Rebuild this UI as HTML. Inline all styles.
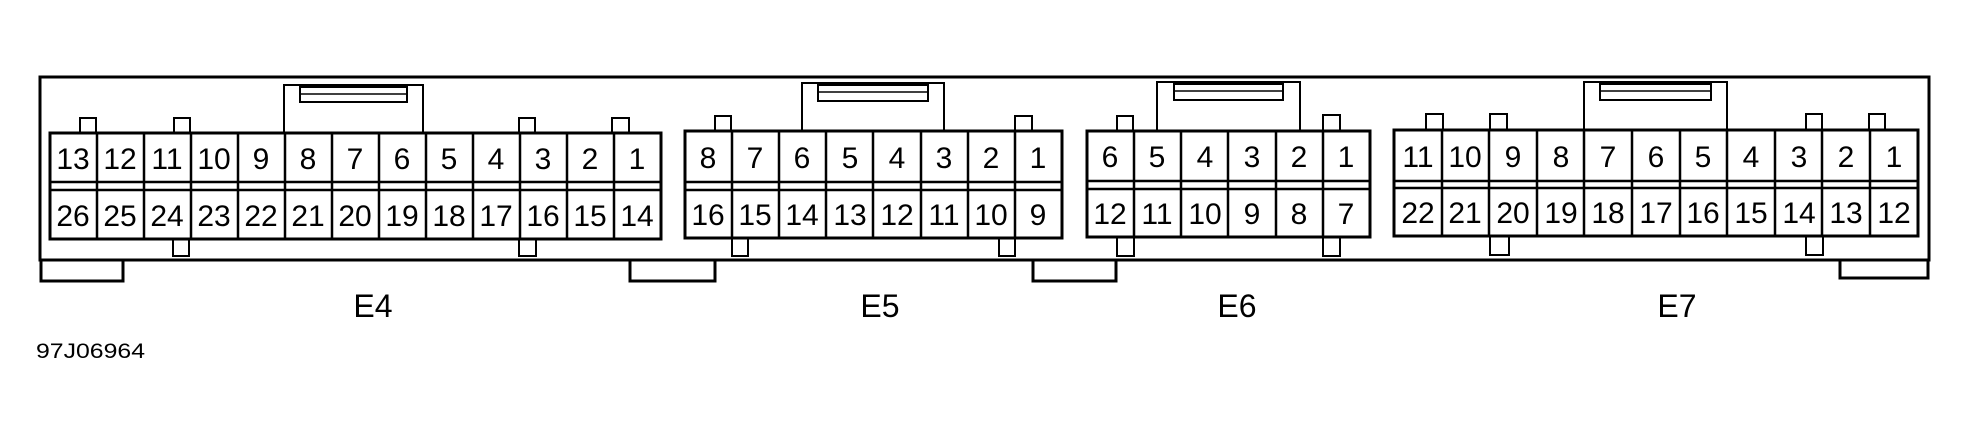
<!DOCTYPE html>
<html><head><style>
html,body{margin:0;padding:0;background:#fff;}
svg{display:block;}
text{font-family:"Liberation Sans",Arial,sans-serif;fill:#000;}
.n{font-size:30px;text-anchor:middle;}
.l{font-size:32px;text-anchor:middle;}
</style></head><body>
<svg width="1967" height="435" viewBox="0 0 1967 435" xmlns="http://www.w3.org/2000/svg">
<g fill="#fff" stroke="#000" stroke-width="3">
<rect x="41" y="258" width="82" height="23"/>
<rect x="630" y="258" width="85" height="23"/>
<rect x="1033" y="258" width="83" height="23"/>
<rect x="1840" y="258" width="88" height="20"/>
<rect x="40" y="77" width="1889" height="183"/>
<rect x="284" y="85" width="139" height="50" stroke-width="2"/>
<rect x="300" y="87" width="107" height="15" stroke-width="2"/>
<rect x="802" y="83" width="142" height="50" stroke-width="2"/>
<rect x="818" y="85" width="110" height="16" stroke-width="2"/>
<rect x="1157" y="82" width="143" height="50" stroke-width="2"/>
<rect x="1174" y="84" width="109" height="16" stroke-width="2"/>
<rect x="1584" y="82" width="143" height="50" stroke-width="2"/>
<rect x="1600" y="84" width="111" height="16" stroke-width="2"/>
<rect x="80" y="118" width="16" height="18" stroke-width="2"/>
<rect x="174" y="118" width="16" height="18" stroke-width="2"/>
<rect x="519" y="118" width="16" height="18" stroke-width="2"/>
<rect x="612" y="118" width="17" height="18" stroke-width="2"/>
<rect x="173" y="236" width="16" height="20" stroke-width="2"/>
<rect x="519" y="236" width="17" height="20" stroke-width="2"/>
<rect x="715" y="116" width="16" height="18" stroke-width="2"/>
<rect x="1015" y="116" width="17" height="18" stroke-width="2"/>
<rect x="732" y="235" width="16" height="21" stroke-width="2"/>
<rect x="999" y="235" width="16" height="21" stroke-width="2"/>
<rect x="1117" y="116" width="16" height="18" stroke-width="2"/>
<rect x="1323" y="115" width="17" height="18" stroke-width="2"/>
<rect x="1117" y="235" width="17" height="21" stroke-width="2"/>
<rect x="1323" y="235" width="17" height="21" stroke-width="2"/>
<rect x="1426" y="114" width="17" height="18" stroke-width="2"/>
<rect x="1490" y="114" width="17" height="18" stroke-width="2"/>
<rect x="1806" y="114" width="16" height="18" stroke-width="2"/>
<rect x="1869" y="114" width="16" height="18" stroke-width="2"/>
<rect x="1490" y="233" width="19" height="22" stroke-width="2"/>
<rect x="1806" y="233" width="17" height="22" stroke-width="2"/>
<rect x="50" y="133" width="611" height="106"/>
<rect x="685" y="131" width="377" height="107"/>
<rect x="1087" y="131" width="283" height="106"/>
<rect x="1394" y="130" width="524" height="106"/>
</g>
<g stroke="#000" stroke-width="2.5" fill="none">
<line x1="50" y1="182" x2="661" y2="182"/><line x1="50" y1="190" x2="661" y2="190"/>
<line x1="97" y1="133" x2="97" y2="239"/><line x1="144" y1="133" x2="144" y2="239"/><line x1="191" y1="133" x2="191" y2="239"/><line x1="238" y1="133" x2="238" y2="239"/><line x1="285" y1="133" x2="285" y2="239"/><line x1="332" y1="133" x2="332" y2="239"/><line x1="379" y1="133" x2="379" y2="239"/><line x1="426" y1="133" x2="426" y2="239"/><line x1="473" y1="133" x2="473" y2="239"/><line x1="520" y1="133" x2="520" y2="239"/><line x1="567" y1="133" x2="567" y2="239"/><line x1="614" y1="133" x2="614" y2="239"/>
<line x1="685" y1="182" x2="1062" y2="182"/><line x1="685" y1="190" x2="1062" y2="190"/>
<line x1="732" y1="131" x2="732" y2="238"/><line x1="779" y1="131" x2="779" y2="238"/><line x1="826" y1="131" x2="826" y2="238"/><line x1="873" y1="131" x2="873" y2="238"/><line x1="921" y1="131" x2="921" y2="238"/><line x1="968" y1="131" x2="968" y2="238"/><line x1="1015" y1="131" x2="1015" y2="238"/>
<line x1="1087" y1="181" x2="1370" y2="181"/><line x1="1087" y1="189" x2="1370" y2="189"/>
<line x1="1134" y1="131" x2="1134" y2="237"/><line x1="1181" y1="131" x2="1181" y2="237"/><line x1="1228" y1="131" x2="1228" y2="237"/><line x1="1276" y1="131" x2="1276" y2="237"/><line x1="1323" y1="131" x2="1323" y2="237"/>
<line x1="1394" y1="181" x2="1918" y2="181"/><line x1="1394" y1="188" x2="1918" y2="188"/>
<line x1="1442" y1="130" x2="1442" y2="236"/><line x1="1489" y1="130" x2="1489" y2="236"/><line x1="1537" y1="130" x2="1537" y2="236"/><line x1="1584" y1="130" x2="1584" y2="236"/><line x1="1632" y1="130" x2="1632" y2="236"/><line x1="1680" y1="130" x2="1680" y2="236"/><line x1="1727" y1="130" x2="1727" y2="236"/><line x1="1775" y1="130" x2="1775" y2="236"/><line x1="1822" y1="130" x2="1822" y2="236"/><line x1="1870" y1="130" x2="1870" y2="236"/>
<line x1="300" y1="94" x2="407" y2="94" stroke-width="1.5"/>
<line x1="818" y1="92" x2="928" y2="92" stroke-width="1.5"/>
<line x1="1174" y1="91" x2="1283" y2="91" stroke-width="1.5"/>
<line x1="1600" y1="91" x2="1711" y2="91" stroke-width="1.5"/>
</g>
<g class="n">
<text x="73" y="169">13</text><text x="120" y="169">12</text><text x="167" y="169">11</text><text x="214" y="169">10</text><text x="261" y="169">9</text><text x="308" y="169">8</text><text x="355" y="169">7</text><text x="402" y="169">6</text><text x="449" y="169">5</text><text x="496" y="169">4</text><text x="543" y="169">3</text><text x="590" y="169">2</text><text x="637" y="169">1</text>
<text x="73" y="226">26</text><text x="120" y="226">25</text><text x="167" y="226">24</text><text x="214" y="226">23</text><text x="261" y="226">22</text><text x="308" y="226">21</text><text x="355" y="226">20</text><text x="402" y="226">19</text><text x="449" y="226">18</text><text x="496" y="226">17</text><text x="543" y="226">16</text><text x="590" y="226">15</text><text x="637" y="226">14</text>
<text x="708" y="168">8</text><text x="755" y="168">7</text><text x="802" y="168">6</text><text x="850" y="168">5</text><text x="897" y="168">4</text><text x="944" y="168">3</text><text x="991" y="168">2</text><text x="1038" y="168">1</text>
<text x="708" y="225">16</text><text x="755" y="225">15</text><text x="802" y="225">14</text><text x="850" y="225">13</text><text x="897" y="225">12</text><text x="944" y="225">11</text><text x="991" y="225">10</text><text x="1038" y="225">9</text>
<text x="1110" y="167">6</text><text x="1157" y="167">5</text><text x="1205" y="167">4</text><text x="1252" y="167">3</text><text x="1299" y="167">2</text><text x="1346" y="167">1</text>
<text x="1110" y="224">12</text><text x="1157" y="224">11</text><text x="1205" y="224">10</text><text x="1252" y="224">9</text><text x="1299" y="224">8</text><text x="1346" y="224">7</text>
<text x="1418" y="167">11</text><text x="1465" y="167">10</text><text x="1513" y="167">9</text><text x="1561" y="167">8</text><text x="1608" y="167">7</text><text x="1656" y="167">6</text><text x="1703" y="167">5</text><text x="1751" y="167">4</text><text x="1799" y="167">3</text><text x="1846" y="167">2</text><text x="1894" y="167">1</text>
<text x="1418" y="223">22</text><text x="1465" y="223">21</text><text x="1513" y="223">20</text><text x="1561" y="223">19</text><text x="1608" y="223">18</text><text x="1656" y="223">17</text><text x="1703" y="223">16</text><text x="1751" y="223">15</text><text x="1799" y="223">14</text><text x="1846" y="223">13</text><text x="1894" y="223">12</text>
</g>
<g class="l">
<text x="373" y="317">E4</text>
<text x="880" y="317">E5</text>
<text x="1237" y="317">E6</text>
<text x="1677" y="317">E7</text>
</g>
<text x="36" y="358" font-size="21" textLength="109" lengthAdjust="spacingAndGlyphs">97J06964</text>
</svg>
</body></html>
